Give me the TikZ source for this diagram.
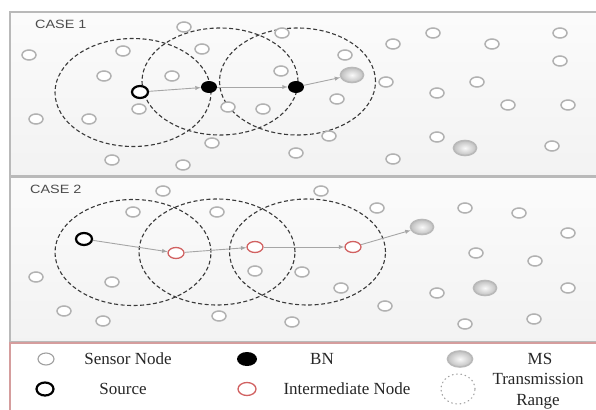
\documentclass[tikz,border=0pt]{standalone}
\usepackage{fontspec}
\setmainfont{Liberation Serif}
\newfontfamily\casefont{Liberation Sans}
\usepackage{tikz}
\usetikzlibrary{shapes.geometric}
\usetikzlibrary{arrows}

\begin{document}
\begin{tikzpicture}[x=1pt,y=-1pt,
    sensor/.style={ellipse,draw=gray!60,line width=1.5pt,fill=white,
      minimum width=14pt,minimum height=10pt,inner sep=0pt},
    srcnode/.style={ellipse,draw=black,line width=2.2pt,fill=white,
      minimum width=16pt,minimum height=12pt,inner sep=0pt},
    bnnode/.style={ellipse,fill=black,minimum width=16pt,minimum height=12pt,inner sep=0pt},
    msnode/.style={ellipse,draw=gray!55,line width=1.6pt,inner color=gray!5,outer color=gray!50,
      minimum width=23pt,minimum height=15pt,inner sep=0pt},
    intnode/.style={ellipse,draw=red!55!gray!80,line width=1.3pt,fill=white,
      minimum width=16pt,minimum height=11pt,inner sep=0pt},
    txrange/.style={draw=gray!45!black,line width=1.1pt,dash pattern=on 4pt off 2.5pt},
    hop/.style={draw=gray!70,line width=0.9pt,-latex},
    panel/.style={draw=gray!55,line width=1.5pt,top color=gray!3,bottom color=gray!10},
    casetext/.style={font=\casefont\fontsize{12}{12}\selectfont,text=black!70,
      xscale=1.2,anchor=west,inner sep=0pt},
    legtext/.style={font=\fontsize{17}{21}\selectfont,text=black!85,align=center,inner sep=0pt}]
    \useasboundingbox (0,0) rectangle (596,409);
    \path[panel] (10,12) rectangle (602,176);
    \path[panel] (10,177) rectangle (602,342);
    \draw[draw=red!40!gray!55,line width=1.5pt,fill=white] (10,343) rectangle (602,414);
    \node[casetext] (case1) at (35,24.5) {CASE 1};
    \node[casetext] (case2) at (30,189.5) {CASE 2};
    \draw[txrange] (133,92.5) ellipse [x radius=78pt,y radius=54pt];
    \draw[txrange] (220,81.5) ellipse [x radius=78pt,y radius=53.5pt];
    \draw[txrange] (297.5,81.5) ellipse [x radius=78pt,y radius=53.5pt];
    \draw[txrange] (133,252.5) ellipse [x radius=78pt,y radius=53pt];
    \draw[txrange] (217,252) ellipse [x radius=78pt,y radius=53pt];
    \draw[txrange] (307.5,252) ellipse [x radius=78pt,y radius=53pt];
    \foreach \x/\y [count=\i] in {184/27,123/51,29/55,202/49,104/76,172/76,139/109,89/119,
        36/119,228/107,263/109,212/143,112/160,183/165,282/33,281/71,296/153,433/33,
        393/44,492/44,560/33,560/61,345/55,386/82,477/82,437/93,337/99,508/105,568/105,
        329/136,437/137,552/146,393/159}
      \node[sensor] (a\i) at (\x,\y) {};
    \foreach \x/\y [count=\i] in {163/191,133/212,217/212,36/277,112/282,64/311,103/321,
        219/316,255/271,302/272,292/322,321/191,377/208,465/208,519/213,568/233,476/253,
        535/261,341/288,437/293,568/288,385/306,465/324,534/319}
      \node[sensor] (b\i) at (\x,\y) {};
    \node[srcnode] (src1) at (140,92) {};
    \node[bnnode] (bn1) at (209,87) {};
    \node[bnnode] (bn2) at (296,87) {};
    \node[msnode] (ms1) at (352,75) {};
    \node[msnode] (ms2) at (465,148) {};
    \draw[hop] (src1) -- (bn1);
    \draw[hop] (bn1) -- (bn2);
    \draw[hop] (bn2) -- (ms1);
    \node[srcnode] (src2) at (84,239) {};
    \node[intnode] (im1) at (176,253) {};
    \node[intnode] (im2) at (255,247) {};
    \node[intnode] (im3) at (353,247) {};
    \node[msnode] (ms3) at (422,227) {};
    \node[msnode] (ms4) at (485,288) {};
    \draw[hop] (src2) -- (im1);
    \draw[hop] (im1) -- (im2);
    \draw[hop] (im2) -- (im3);
    \draw[hop] (im3) -- (ms3);
    \node[sensor,draw=gray!75,line width=1.1pt,minimum width=16pt,minimum height=12pt] (lsensor) at (46,359) {};
    \node[legtext] (tsensor) at (128,359) {Sensor Node};
    \node[bnnode,minimum width=20pt,minimum height=14pt] (lbn) at (247,359) {};
    \node[legtext] (tbn) at (322,359) {BN};
    \node[msnode,minimum width=25pt,minimum height=16pt] (lms) at (460,359) {};
    \node[legtext] (tms) at (540,359) {MS};
    \node[srcnode,minimum width=17pt,minimum height=13pt] (lsrc) at (45,389) {};
    \node[legtext] (tsrc) at (123,389) {Source};
    \node[intnode,minimum width=18pt,minimum height=13pt] (lim) at (247,389) {};
    \node[legtext] (tim) at (347,389) {Intermediate Node};
    \draw[draw=gray!75,line width=1.1pt,dash pattern=on 0.8pt off 3.5pt,line cap=round]
      (458,389) ellipse [x radius=17pt,y radius=15pt];
    \node[legtext] (trange) at (538,391) {Transmission\\Range};
\end{tikzpicture}
\end{document}
